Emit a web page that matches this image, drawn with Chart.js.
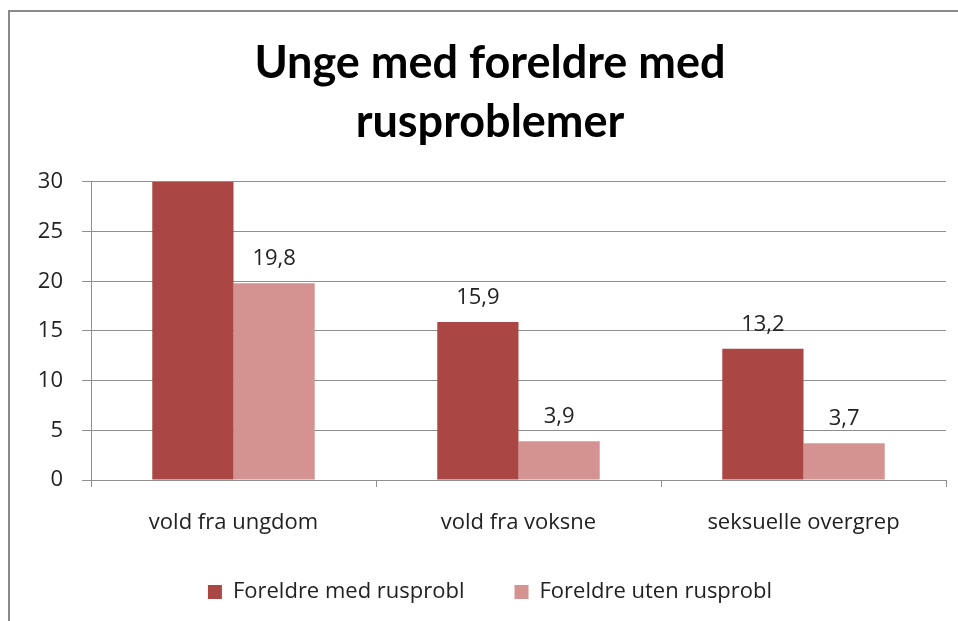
<!DOCTYPE html>
<html>
<head>
<meta charset="utf-8">
<script src="https://cdn.jsdelivr.net/npm/chart.js@4/dist/chart.umd.min.js"></script>
<style>
  html, body { margin: 0; padding: 0; background: #fff; overflow: hidden; }
  #wrap { position: relative; width: 958px; height: 621px; }
  #frame {
    position: absolute; left: 8px; top: 10px; width: 2000px; height: 2000px;
    border-left: 2px solid #8a8a8a; border-top: 2px solid #8a8a8a;
    pointer-events: none;
  }
</style>
</head>
<body>
<div id="wrap">
  <canvas id="chart"></canvas>
  <div id="frame"></div>
</div>
<script>
const categories = ["vold fra ungdom", "vold fra voksne", "seksuelle overgrep"];
const seriesNames = ["Foreldre med rusprobl", "Foreldre uten rusprobl"];
const withProblems = [31, 15.9, 13.2];
const withoutProblems = [19.8, 3.9, 3.7];
const yTicks = [0, 5, 10, 15, 20, 25, 30];

const textFont = "'Open Sans', 'Liberation Sans', sans-serif";
const gridColor = "#8f8f8f";

// Excel-style value labels above each bar; a bar cut off by the axis max gets none.
const barValueLabels = {
  id: "barValueLabels",
  afterDatasetsDraw(chart) {
    const ctx = chart.ctx;
    const yMax = chart.scales.y.max;
    ctx.save();
    ctx.font = `22px ${textFont}`;
    ctx.fillStyle = "#222";
    ctx.textAlign = "center";
    ctx.textBaseline = "alphabetic";
    chart.data.datasets.forEach((dataset, datasetIndex) => {
      chart.getDatasetMeta(datasetIndex).data.forEach((bar, index) => {
        const value = dataset.data[index];
        if (value > yMax) {
          return;
        }
        ctx.fillText(String(value).replace(".", ","), bar.x, bar.y - 18);
      });
    });
    ctx.restore();
  },
};

new Chart(document.getElementById("chart"), {
  type: "bar",
  data: {
    labels: categories,
    datasets: [
      {
        label: seriesNames[0],
        data: withProblems,
        backgroundColor: "#aa4643",
        clip: 0,
      },
      {
        label: seriesNames[1],
        data: withoutProblems,
        backgroundColor: "#d49391",
        clip: 0,
      },
    ],
  },
  options: {
    responsive: true,
    maintainAspectRatio: false,
    animation: false,
    categoryPercentage: 0.57,
    barPercentage: 1,
    layout: {
      padding: { left: 34, right: 12, top: 0, bottom: 8 },
    },
    plugins: {
      tooltip: { enabled: false },
      title: {
        display: true,
        text: ["Unge med foreldre med", "rusproblemer"],
        color: "#000",
        font: { family: "Lato, 'Liberation Sans', sans-serif", size: 45, weight: "bold", lineHeight: 1.31 },
        padding: { top: 34, bottom: 30 },
      },
      legend: {
        position: "bottom",
        labels: {
          color: "#222",
          font: { family: textFont, size: 22 },
          boxWidth: 14,
          boxHeight: 14,
          padding: 10,
          generateLabels(chart) {
            const items = Chart.defaults.plugins.legend.labels.generateLabels(chart);
            items[0].text += "\u00a0".repeat(7);
            return items;
          },
        },
      },
    },
    scales: {
      x: {
        afterFit(scale) {
          scale.height = 91;
        },
        grid: {
          display: true,
          drawOnChartArea: false,
          drawTicks: true,
          tickLength: 7,
          color: gridColor,
        },
        border: { color: gridColor },
        ticks: {
          color: "#222",
          font: { family: textFont, size: 22 },
          padding: 23,
        },
      },
      y: {
        min: 0,
        max: 30,
        afterFit(scale) {
          scale.width = 57;
        },
        afterBuildTicks(scale) {
          scale.ticks = yTicks.map((value) => ({ value }));
        },
        grid: {
          color: gridColor,
          tickLength: 9,
        },
        border: { color: gridColor },
        ticks: {
          color: "#222",
          font: { family: textFont, size: 22 },
          padding: 19,
        },
      },
    },
  },
  plugins: [barValueLabels],
});
</script>
</body>
</html>
